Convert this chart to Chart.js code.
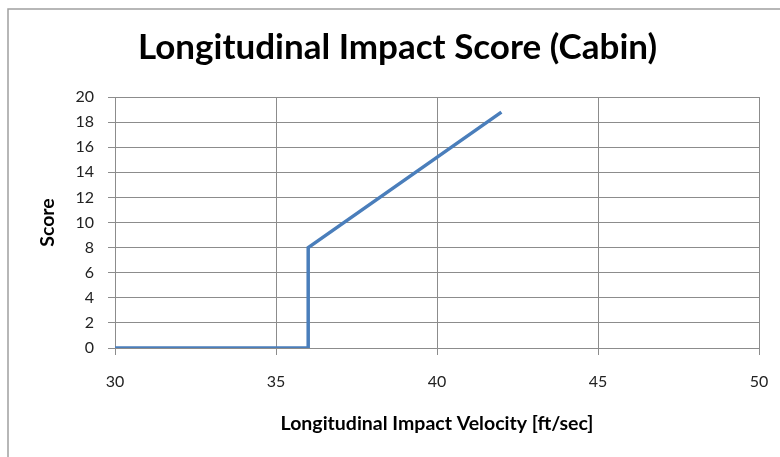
<!DOCTYPE html>
<html>
<head>
<meta charset="utf-8">
<script src="https://cdn.jsdelivr.net/npm/chart.js@4.4.1/dist/chart.umd.min.js"></script>
<style>
    html, body { margin: 0; padding: 0; background: #fff; }
    #wrap { width: 780px; height: 457px; position: relative; }
</style>
</head>
<body>
<div id="wrap"><canvas id="score-chart"></canvas></div>
<script>
// longitudinal impact velocity [ft/sec] and the score at that speed
const velocity = [30, 36, 36, 42];
const score = [0, 0, 8, 18.8];

const xRange = { min: 30, max: 50, step: 5 };
const yRange = { min: 0, max: 20, step: 2 };

const chartTitle = 'Longitudinal Impact Score (Cabin)';
const xTitle = 'Longitudinal Impact Velocity [ft/sec]';
const yTitle = 'Score';

const gridColor = '#8c8c8c';
const fontFamily = 'Lato, "Open Sans", sans-serif';

// thin frame along the top and left edge of the chart area
const framePlugin = {
    id: 'frame',
    beforeDraw(chart) {
        const ctx = chart.ctx;
        ctx.save();
        ctx.strokeStyle = '#a0a0a0';
        ctx.lineWidth = 1.5;
        ctx.beginPath();
        ctx.moveTo(8, chart.height);
        ctx.lineTo(8, 9);
        ctx.lineTo(chart.width, 9);
        ctx.stroke();
        ctx.restore();
    }
};

const points = velocity.map((v, i) => ({ x: v, y: score[i] }));

new Chart(document.getElementById('score-chart'), {
    type: 'line',
    data: {
        datasets: [{
            data: points,
            borderColor: '#4a7ebb',
            borderWidth: 3.5,
            pointRadius: 0,
            tension: 0,
            fill: false
        }]
    },
    options: {
        responsive: true,
        maintainAspectRatio: false,
        animation: false,
        layout: { padding: { left: 36, right: 21, top: 0, bottom: 0 } },
        plugins: {
            legend: { display: false },
            tooltip: { enabled: false },
            title: {
                display: true,
                text: chartTitle,
                color: '#000',
                font: { family: fontFamily, size: 35, weight: 'bold' },
                padding: { top: 27, bottom: 28 }
            }
        },
        scales: {
            x: {
                type: 'linear',
                min: xRange.min,
                max: xRange.max,
                ticks: {
                    stepSize: xRange.step,
                    color: '#222',
                    font: { family: fontFamily, size: 16 },
                    padding: 17,
                    maxRotation: 0
                },
                grid: { color: gridColor, tickLength: 7, lineWidth: 1 },
                border: { color: gridColor },
                title: {
                    display: true,
                    text: xTitle,
                    color: '#000',
                    font: { family: fontFamily, size: 19.5, weight: 'bold' },
                    padding: { top: 0, bottom: 22 }
                },
                afterFit(scale) {
                    scale.height = 109;
                    // the end labels fit inside the layout padding already
                    scale.paddingLeft = 0;
                    scale.paddingRight = 0;
                }
            },
            y: {
                min: yRange.min,
                max: yRange.max,
                ticks: {
                    stepSize: yRange.step,
                    color: '#222',
                    font: { family: fontFamily, size: 16 },
                    padding: 14
                },
                grid: { color: gridColor, tickLength: 7, lineWidth: 1 },
                border: { color: gridColor },
                title: {
                    display: true,
                    text: yTitle,
                    color: '#000',
                    font: { family: fontFamily, size: 19.5, weight: 'bold' },
                    padding: { top: 0, bottom: 0 }
                },
                afterFit(scale) { scale.width = 79; }
            }
        }
    },
    plugins: [framePlugin]
});
</script>
</body>
</html>
